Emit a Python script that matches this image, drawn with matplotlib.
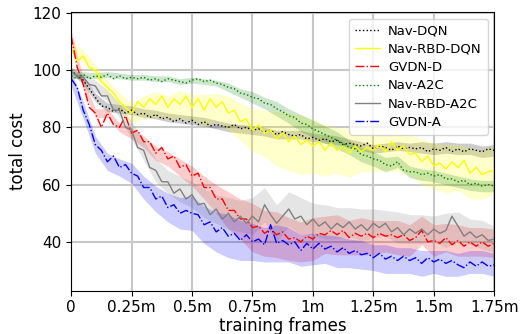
import numpy as np
import matplotlib
matplotlib.use("Agg")
import matplotlib.pyplot as plt

# sample grid: every 25k training frames, 0 .. 1.75m
frames = np.linspace(0, 1.75e6, 71)

nav_dqn = [100, 98, 96.5, 93.5, 90.5, 87.5, 87, 85.5, 86.5, 85, 86, 84.5, 85, 83.5, 84.5, 83, 83.5, 82, 83, 81.5,
           82.5, 81, 82, 80.5, 81, 80.5, 80, 81, 79.5, 80, 79, 79.5, 78.5, 79, 77.5, 78.5, 77.5, 77, 77.5, 76,
           76.5, 75.5, 76, 75, 75.5, 74, 74.5, 74, 73.5, 74.5, 72.5, 73.5, 73, 72, 73.5, 72.5, 73, 72.5, 73, 71.5,
           72.5, 72, 73, 71.5, 72.5, 71.5, 72.5, 72, 71.5, 72.5, 72]
nav_rbd_dqn = [108, 103, 105, 101, 100, 96, 94, 92, 89, 87, 85, 89, 87, 90, 88, 91, 87, 90, 88, 91,
               87, 90, 86, 90, 87, 89, 85, 86, 82, 83, 79, 81, 78, 79, 76, 78, 75, 77, 74, 75.5,
               73.5, 75, 72, 74.5, 72, 73.5, 71, 73.5, 71.5, 73, 72, 74, 71.5, 75, 72, 73.5, 70.5, 71, 68, 70,
               66.5, 67.5, 65.5, 68, 66, 68.5, 64, 66, 63.5, 64.5, 65]
gvdn_d = [112, 101, 95, 87, 85, 80, 85, 81, 80, 84, 78, 79, 75, 75, 71, 73, 69, 70, 66, 67,
          63, 64, 59, 59, 55, 55, 51, 51, 48, 48, 45, 45.5, 43, 44.5, 42.5, 43.5, 41, 41.5, 40, 42,
          41, 43, 42.5, 44, 42.5, 44, 41.5, 43, 42, 43, 41.5, 43, 42, 42.5, 41.5, 42.5, 40.5, 41.5, 44, 40,
          40.5, 39.5, 41.5, 39, 40.5, 38.5, 40, 38.5, 40, 38.5, 39.5]
nav_a2c = [98, 97, 98.5, 97, 98, 97.5, 98.5, 97, 98, 97, 97.5, 97, 97.5, 96.5, 97, 96, 97, 96.5, 96, 95.5,
           96.5, 97, 96, 96.5, 95.5, 95, 94, 93.5, 92, 91.5, 90.5, 90, 88.5, 88, 86.5, 85.5, 84, 83.5, 81.5, 81,
           79.5, 78.5, 77.5, 76.5, 75.5, 74.5, 73, 72.5, 70.5, 70, 69, 68.5, 67, 66.5, 68, 65, 64.5, 64.5, 63.5, 64,
           63, 63.5, 62, 62, 61, 61.5, 60, 60.5, 59.5, 60, 59.5]
nav_rbd_a2c = [99.5, 98, 97.5, 95, 94.5, 91, 91, 86, 86, 80, 79, 73, 72, 66, 65, 61, 61, 57, 58.5, 55,
               56.5, 53, 53.5, 49.5, 51.5, 48, 50, 47, 49, 46.5, 49, 47, 53, 49.5, 46.5, 49, 51.5, 48, 49, 46,
               48, 45.5, 47, 44.5, 46.5, 45, 47, 44.5, 46, 44, 46.5, 45, 46.5, 43.5, 45, 42.5, 44.5, 43, 44.5, 42.5,
               44.5, 43, 44, 49, 45.5, 42, 43.5, 41.5, 42.5, 40.5, 41]
gvdn_a = [97, 94, 86, 81, 74, 72, 68, 70, 66, 67, 64, 63, 59, 59, 55, 56, 52, 53, 50, 51,
          50, 49.5, 46, 47, 43.5, 45, 42, 43, 40.5, 42.5, 40, 41, 39, 46, 39.5, 40.5, 39, 40, 37, 39.5,
          37.5, 39.5, 37.5, 38.5, 36.5, 38, 36, 37, 35.5, 36, 34.5, 36, 34, 35, 33.5, 35, 33.5, 34.5, 32.5, 34.5,
          33, 34, 32.5, 33.5, 32, 31, 33, 31.5, 33, 31.5, 32]

# half-width of the shaded band, every 50k frames
nav_dqn_sd = [1, 1.5, 1.5, 1.5, 1.5, 1.5, 1.5, 1.5, 1.5, 1.5, 1.5, 1.5, 1.5, 1.5, 1.5, 1.5, 1.5, 1.5,
              1.5, 1.5, 1.5, 1.5, 1.5, 1.5, 1.5, 1.5, 1.5, 1.5, 1.5, 2, 2, 2, 2, 2, 2, 2]
nav_rbd_dqn_sd = [2, 2, 2, 2.5, 3, 3.5, 4, 4.5, 4, 5, 4.5, 5.5, 5, 6, 6.5, 7.5, 8, 9.5,
                  10, 10.5, 9.5, 9, 8, 8.5, 7, 7.5, 6.5, 7.5, 7, 8, 8, 8.5, 8, 9, 8.5, 8.5]
gvdn_d_sd = [2, 2, 1.5, 1.5, 1.5, 2, 2, 2.5, 2.5, 3, 3.5, 4, 5, 6.5, 7, 8.5, 8, 8,
             7.5, 7, 7.5, 6.5, 7, 6, 6.5, 6, 5.5, 6, 5.5, 5, 5.5, 5, 5.5, 5, 5, 5]
nav_a2c_sd = [1, 1, 1, 1, 1, 1, 1, 1, 1, 1, 1, 1, 1, 1.5, 1.5, 2, 2, 2.5,
              2.5, 3, 3, 3, 3, 2.5, 2.5, 2.5, 2.5, 2, 2, 2, 2, 2, 2, 2, 2, 2]
nav_rbd_a2c_sd = [1.5, 1.5, 2, 2, 2.5, 3, 3.5, 4, 4, 4.5, 4.5, 5, 5, 5.5, 5.5, 6.5, 6, 6.5,
                  6, 6.5, 5.5, 6, 5.5, 5, 5.5, 5, 4.5, 5.5, 5, 5, 4.5, 6, 5, 4.5, 5, 4.5]
gvdn_a_sd = [2.5, 3, 3, 3, 3, 3.5, 4, 4.5, 5, 5.5, 6, 6.5, 7, 7.5, 7, 6.5, 6, 6.5,
             6, 5.5, 5.5, 5, 5.5, 5, 5, 4.5, 5, 4.5, 4.5, 4.5, 4, 4.5, 4, 4, 4, 4]

labels = ["Nav-DQN", "Nav-RBD-DQN", "GVDN-D", "Nav-A2C", "Nav-RBD-A2C", "GVDN-A"]
means = [nav_dqn, nav_rbd_dqn, gvdn_d, nav_a2c, nav_rbd_a2c, gvdn_a]
sds = [nav_dqn_sd, nav_rbd_dqn_sd, gvdn_d_sd, nav_a2c_sd, nav_rbd_a2c_sd, gvdn_a_sd]
colors = ["black", "yellow", "red", "green", "gray", "blue"]
styles = [":", "-", "-.", ":", "-", "-."]

xtick_pos = [0, 250000, 500000, 750000, 1000000, 1250000, 1500000, 1750000]
xtick_lab = ["0", "0.25m", "0.5m", "0.75m", "1m", "1.25m", "1.5m", "1.75m"]
ytick_pos = [40, 60, 80, 100, 120]

fig = plt.figure(figsize=(5.23, 3.34), dpi=100)
ax = fig.add_axes([0.136, 0.13, 0.809, 0.834])

for m, s, c, ls, lab in zip(means, sds, colors, styles, labels):
    m = np.array(m)
    s = np.array(s)
    ax.fill_between(frames[::2], m[::2] - s, m[::2] + s, color=c, alpha=0.2, linewidth=0)
    ax.plot(frames, m, color=c, linestyle=ls, linewidth=1, label=lab)

ax.set_xlim(0, 1.75e6)
ax.set_ylim(23, 120.3)
ax.set_xticks(xtick_pos)
ax.set_xticklabels(xtick_lab, fontsize=11)
ax.set_yticks(ytick_pos)
ax.tick_params(axis="y", labelsize=11)
ax.grid(True, color="#c8c8c8", linewidth=1.5)
ax.set_axisbelow(True)
ax.set_xlabel("training frames", fontsize=12, labelpad=1)
ax.set_ylabel("total cost", fontsize=12)
ax.legend(loc="upper right", fontsize=9.5, handlelength=1.9, labelspacing=0.4, borderpad=0.45,
          handletextpad=0.6)

fig.savefig("out.png", dpi=100)
